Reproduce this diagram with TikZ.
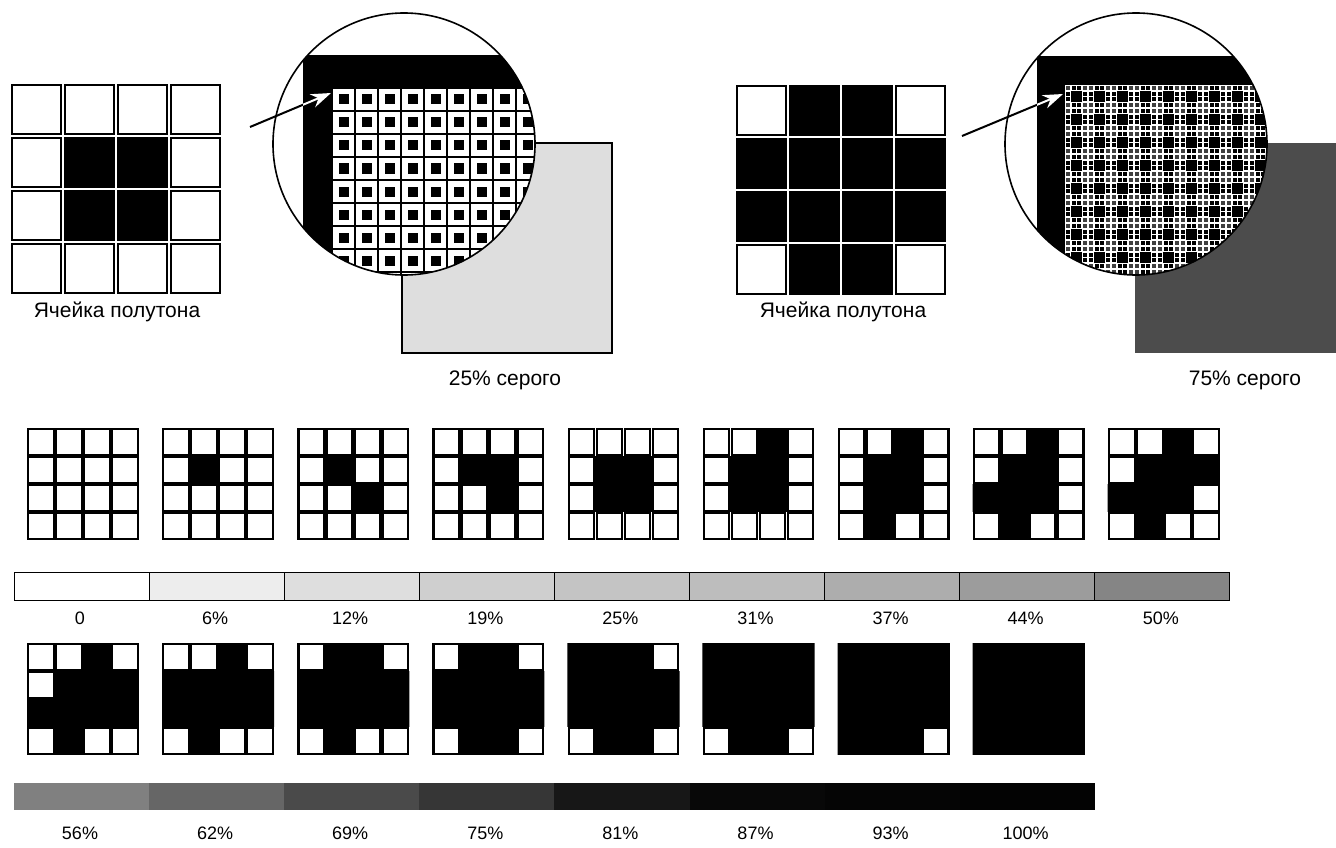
\documentclass[tikz,border=0pt]{standalone}
\usepackage{fontspec}
\setmainfont{Liberation Sans}
\usetikzlibrary{arrows.meta}
\definecolor{sqlight}{gray}{0.87}
\definecolor{sqdark}{gray}{0.30}
\definecolor{micro}{gray}{0.25}
\definecolor{ga}{gray}{1.00}
\definecolor{gb}{gray}{0.93}
\definecolor{gc}{gray}{0.87}
\definecolor{gd}{gray}{0.81}
\definecolor{ge}{gray}{0.77}
\definecolor{gf}{gray}{0.74}
\definecolor{gg}{gray}{0.68}
\definecolor{gh}{gray}{0.61}
\definecolor{gi}{gray}{0.52}
\definecolor{gj}{gray}{0.50}
\definecolor{gk}{gray}{0.40}
\definecolor{gl}{gray}{0.29}
\definecolor{gm}{gray}{0.21}
\definecolor{gn}{gray}{0.09}
\definecolor{go}{gray}{0.03}
\definecolor{gp}{gray}{0.02}
\definecolor{gq}{gray}{0.01}
% white sub-squares of a 4x4 halftone cell
\newcommand{\htgrid}[5]{%
  \foreach \r in {0,...,3}{\foreach \c in {0,...,3}{%
    \draw[line width=#5pt,fill=white] ({#1+\c*#3+#4},{#2+\r*#3+#4}) rectangle ({#1+(\c+1)*#3-#4},{#2+(\r+1)*#3-#4});}}}
% black sub-squares (clipped to the cell)
\newcommand{\htblack}[5]{%
  \begin{scope}
  \clip ({#1-0.1},{#2-0.1}) rectangle ({#1+4*#3+0.1},{#2+4*#3+0.1});
  \foreach \r/\c in #5{%
    \fill[black] ({#1+\c*#3+#4},{#2+\r*#3+#4}) rectangle ({#1+(\c+1)*#3-#4},{#2+(\r+1)*#3-#4});}
  \end{scope}}
\def\patA{1/1}
\def\patB{1/1,2/2}
\def\patC{1/1,1/2,2/2}
\def\patD{1/1,1/2,2/1,2/2}
\def\patE{1/1,1/2,2/1,2/2,0/2}
\def\patF{1/1,1/2,2/1,2/2,0/2,3/1}
\def\patG{1/1,1/2,2/1,2/2,0/2,3/1,2/0}
\def\patH{1/1,1/2,2/1,2/2,0/2,3/1,2/0,1/3}
\def\patI{1/1,1/2,2/1,2/2,0/2,3/1,2/0,1/3,2/3}
\def\patJ{1/1,1/2,2/1,2/2,0/2,3/1,2/0,1/3,2/3,1/0}
\def\patK{1/1,1/2,2/1,2/2,0/2,3/1,2/0,1/3,2/3,1/0,0/1}
\def\patL{1/1,1/2,2/1,2/2,0/2,3/1,2/0,1/3,2/3,1/0,0/1,3/2}
\def\patM{1/1,1/2,2/1,2/2,0/2,3/1,2/0,1/3,2/3,1/0,0/1,3/2,0/0}
\def\patN{1/1,1/2,2/1,2/2,0/2,3/1,2/0,1/3,2/3,1/0,0/1,3/2,0/0,0/3}
\def\patO{1/1,1/2,2/1,2/2,0/2,3/1,2/0,1/3,2/3,1/0,0/1,3/2,0/0,0/3,3/0}
\def\patP{1/1,1/2,2/1,2/2,0/2,3/1,2/0,1/3,2/3,1/0,0/1,3/2,0/0,0/3,3/0,3/3}
\begin{document}
\begin{tikzpicture}[x=1pt,y=-1pt,
  captxt/.style={font=\fontsize{21}{25}\selectfont, inner sep=0pt},
  pct/.style={font=\fontsize{18}{22}\selectfont, inner sep=0pt},
  arr/.style={line width=2pt,-{Stealth[length=20pt,width=14pt]}},
  lens/.style={line width=1.6pt},
  seg/.style={line width=1pt}]
\useasboundingbox (0,0) rectangle (1336,848);
\fill[white] (0,0) rectangle (1336,848);

% ---------- top left: 25% cell ----------
\htgrid{10}{83}{53}{2.2}{2}
\htblack{10}{83}{53}{1.2}{\patD}
\node[captxt] (capL) at (117,312) {Ячейка полутона};

\draw[line width=1.2pt, fill=sqlight] (402,143) rectangle (612,353);
\node[captxt] (capA) at (505,380) {25\% серого};

\coordinate (c1) at (404,144);
\begin{scope}
  \clip (c1) circle[radius=131pt];
  \fill[white] (260,0) rectangle (550,290);
  \fill[black] (303,55) rectangle (550,290);
  \foreach \i in {0,...,8}{\foreach \j in {0,...,8}{
    \fill[white] ({332+23*\i+1},{88+23*\j+1}) rectangle ++(21,21);
    \fill[black] ({332+23*\i+6.5},{88+23*\j+6.5}) rectangle ++(10,10);}}
\end{scope}
\draw[lens] (c1) circle[radius=131pt];

\coordinate (a1s) at (250,127);
\coordinate (a1e) at (331,93);
\draw[arr] (a1s) -- (a1e);
\begin{scope}
  \clip (303,55) rectangle (333,280);
  \draw[arr,white] (a1s) -- (a1e);
\end{scope}

% ---------- top right: 75% cell ----------
\htgrid{735}{84}{53}{2.2}{2}
\htblack{735}{84}{53}{1.2}{\patL}
\node[captxt] (capR) at (843,312) {Ячейка полутона};

\fill[sqdark] (1135,143) rectangle (1340,353);
\node[captxt] (capB) at (1245,380) {75\% серого};

\coordinate (c2) at (1136,144);
\begin{scope}
  \clip (c2) circle[radius=131pt];
  \fill[white] (1000,0) rectangle (1280,290);
  \fill[black] (1037,56) rectangle (1280,290);
  \fill[white] (1065,85) rectangle (1280,290);
  \foreach \i in {0,...,8}{\foreach \j in {0,...,8}{
    \foreach \a/\b in {0/0,3/0,0/3,3/3}{
      \fill[micro] ({1065+23*\i+5.75*\a+1},{85+23*\j+5.75*\b+1}) rectangle ++(3.75,3.75);}
    \foreach \a/\b in {1/0,2/0,0/1,3/1,0/2,3/2,1/3,2/3}{
      \fill[black] ({1065+23*\i+5.75*\a+0.9},{85+23*\j+5.75*\b+0.9}) rectangle ++(3.95,3.95);}
    \fill[black] ({1065+23*\i+6.2},{85+23*\j+6.2}) rectangle ++(10.6,10.6);}}
\end{scope}
\draw[lens] (c2) circle[radius=131pt];

\coordinate (a2s) at (962,136);
\coordinate (a2e) at (1063,94);
\draw[arr] (a2s) -- (a2e);
\begin{scope}
  \clip (1037,56) rectangle (1065.5,280);
  \draw[arr,white] (a2s) -- (a2e);
\end{scope}

% ---------- row 1 of small cells ----------
\htgrid{27}{428}{28}{1.2}{2.2}
\htgrid{162.1}{428}{28}{1.2}{2.2}   \htblack{162.1}{428}{28}{-0.4}{\patA}
\htgrid{297.2}{428}{28}{1.2}{2.2}   \htblack{297.2}{428}{28}{-0.4}{\patB}
\htgrid{432.3}{428}{28}{1.2}{2.2}   \htblack{432.3}{428}{28}{-0.4}{\patC}
\htgrid{567.4}{428}{28}{1.2}{2.2}   \htblack{567.4}{428}{28}{-0.4}{\patD}
\htgrid{702.5}{428}{28}{1.2}{2.2}   \htblack{702.5}{428}{28}{-0.4}{\patE}
\htgrid{837.6}{428}{28}{1.2}{2.2}   \htblack{837.6}{428}{28}{-0.4}{\patF}
\htgrid{972.7}{428}{28}{1.2}{2.2}   \htblack{972.7}{428}{28}{-0.4}{\patG}
\htgrid{1107.8}{428}{28}{1.2}{2.2}  \htblack{1107.8}{428}{28}{-0.4}{\patH}

% ---------- bar 1 ----------
\foreach \i/\g in {0/ga,1/gb,2/gc,3/gd,4/ge,5/gf,6/gg,7/gh,8/gi}{
  \draw[seg, fill=\g] ({14+135.1*\i},572) rectangle ({14+135.1*(\i+1)},600);}
\foreach \i/\t/\n in {0/0/pa,1/6\%/pb,2/12\%/pc,3/19\%/pd,4/25\%/pe,5/31\%/pf,6/37\%/pg,7/44\%/ph,8/50\%/pi}{
  \node[pct] (\n) at ({80+135.1*\i},618) {\t};}

% ---------- row 2 of small cells ----------
\htgrid{27}{643}{28}{1.2}{2.2}      \htblack{27}{643}{28}{-0.4}{\patI}
\htgrid{162.1}{643}{28}{1.2}{2.2}   \htblack{162.1}{643}{28}{-0.4}{\patJ}
\htgrid{297.2}{643}{28}{1.2}{2.2}   \htblack{297.2}{643}{28}{-0.4}{\patK}
\htgrid{432.3}{643}{28}{1.2}{2.2}   \htblack{432.3}{643}{28}{-0.4}{\patL}
\htgrid{567.4}{643}{28}{1.2}{2.2}   \htblack{567.4}{643}{28}{-0.4}{\patM}
\htgrid{702.5}{643}{28}{1.2}{2.2}   \htblack{702.5}{643}{28}{-0.4}{\patN}
\htgrid{837.6}{643}{28}{1.2}{2.2}   \htblack{837.6}{643}{28}{-0.4}{\patO}
\htgrid{972.7}{643}{28}{1.2}{2.2}   \htblack{972.7}{643}{28}{-0.4}{\patP}

% ---------- bar 2 ----------
\foreach \i/\g in {0/gj,1/gk,2/gl,3/gm,4/gn,5/go,6/gp,7/gq}{
  \fill[\g] ({14+135.1*\i},783) rectangle ({14+135.1*(\i+1)+0.3},810);}
\foreach \i/\t/\n in {0/56\%/qa,1/62\%/qb,2/69\%/qc,3/75\%/qd,4/81\%/qe,5/87\%/qf,6/93\%/qg,7/100\%/qh}{
  \node[pct] (\n) at ({80+135.1*\i},833) {\t};}
\end{tikzpicture}
\end{document}
